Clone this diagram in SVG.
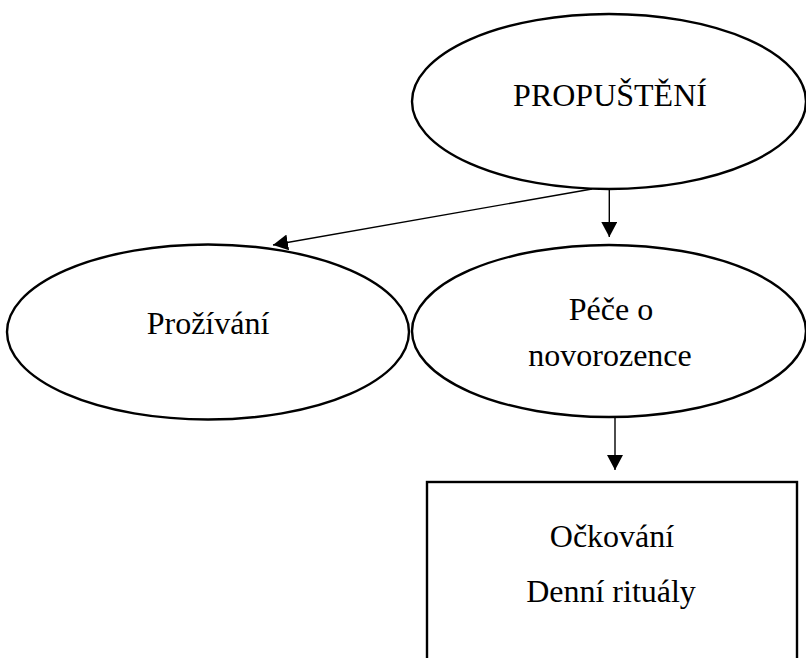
<svg xmlns="http://www.w3.org/2000/svg" width="806" height="658" viewBox="0 0 806 658">
<defs>
<style>
.node{fill:#fff;stroke:#000;stroke-width:2.4}
.lbl{font-family:"Liberation Serif","Times New Roman",serif;font-size:32px;fill:#000;text-anchor:middle}
.conn{stroke:#000;stroke-width:1.4;fill:none}
</style>
<marker id="ah" markerUnits="userSpaceOnUse" viewBox="0 0 15 16" markerWidth="15" markerHeight="16" refX="15" refY="8" orient="auto">
<path d="M0,0 L15,8 L0,16 z" fill="#000"/>
</marker>
</defs>
<rect width="806" height="658" fill="#fff"/>
<g id="propusteni">
<ellipse class="node" cx="609" cy="101.5" rx="197" ry="87.5"/>
<text class="lbl" x="610" y="106">PROPUŠTĚNÍ</text>
</g>
<g id="prozivani">
<ellipse class="node" cx="208" cy="332" rx="201" ry="87.5"/>
<text class="lbl" x="208" y="334">Prožívání</text>
</g>
<g id="pece">
<ellipse class="node" cx="609" cy="331" rx="197" ry="86"/>
<text class="lbl" x="611" y="320">Péče o</text>
<text class="lbl" x="610" y="366">novorozence</text>
</g>
<g id="ockovani">
<rect class="node" x="427" y="482" width="370" height="200"/>
<text class="lbl" x="612" y="547">Očkování</text>
<text class="lbl" x="611" y="602">Denní rituály</text>
</g>
<g id="connectors">
<line class="conn" x1="592" y1="189" x2="273" y2="245" marker-end="url(#ah)"/>
<line class="conn" x1="609.3" y1="189" x2="609.3" y2="237" marker-end="url(#ah)"/>
<line class="conn" x1="615" y1="418" x2="615" y2="470" marker-end="url(#ah)"/>
</g>
</svg>
